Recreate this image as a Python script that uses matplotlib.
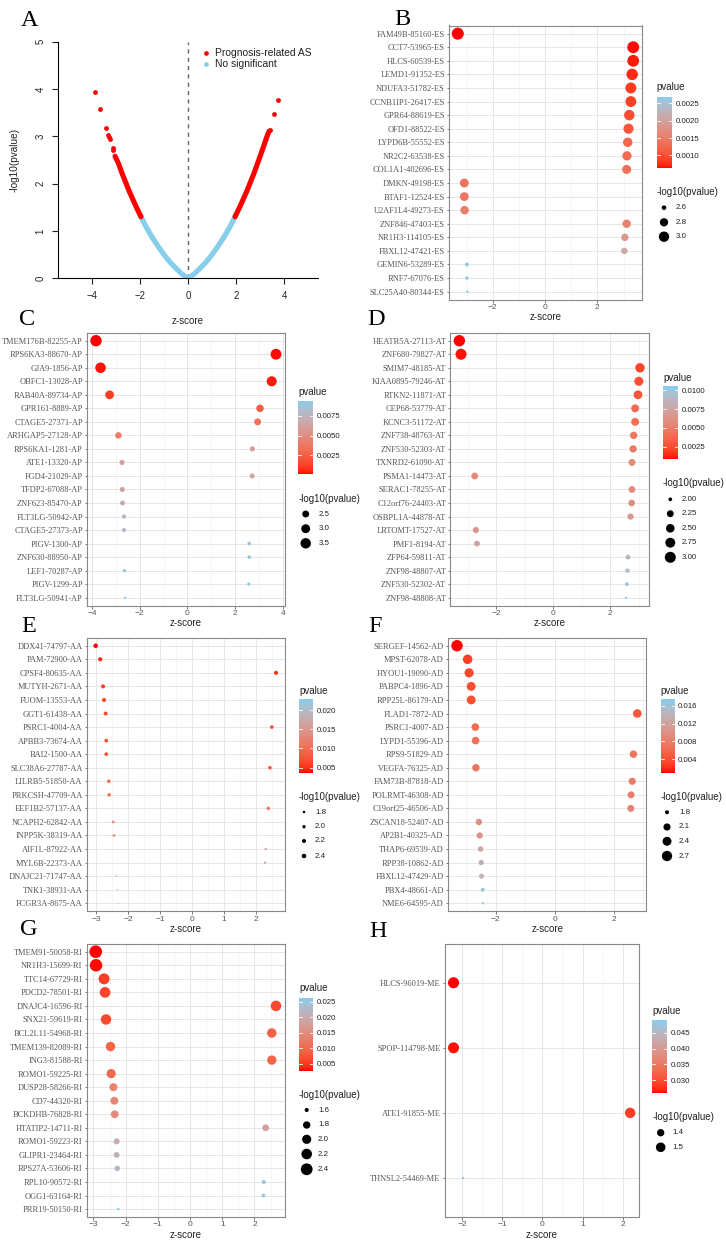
import numpy as np
import matplotlib
matplotlib.use("Agg")
import matplotlib.pyplot as plt
from matplotlib.colors import ListedColormap, Normalize
from matplotlib.colorbar import ColorbarBase

plt.rcParams['font.family'] = ['Liberation Sans', 'DejaVu Sans']
SERIF = ['Liberation Serif', 'DejaVu Serif']

W, H = 726, 1240

# ---------------- Panel A data ----------------
a_red_left_z = [-3.87, -3.68, -3.42, -3.32, -3.28, -3.25, -3.14, -3.11]
a_red_left_y = [3.94, 3.58, 3.17, 3.03, 2.98, 2.94, 2.75, 2.72]
a_red_right_z = [3.40, 3.58, 3.76]
a_red_right_y = [3.13, 3.48, 3.77]
a_band_left_z = [-3.04, -2.9, -2.75, -2.6, -2.45, -2.3, -2.15, -1.96]
a_band_left_y = [2.58, 2.43, 2.22, 2.03, 1.84, 1.67, 1.50, 1.30]
a_band_right_z = [1.96, 2.15, 2.3, 2.45, 2.6, 2.75, 2.9, 3.05, 3.2, 3.3, 3.38]
a_band_right_y = [1.30, 1.50, 1.67, 1.84, 2.03, 2.22, 2.43, 2.64, 2.86, 3.01, 3.11]
a_ns_z = [-1.96, -1.75, -1.5, -1.25, -1.0, -0.75, -0.5, -0.25, 0.0,
          0.25, 0.5, 0.75, 1.0, 1.25, 1.5, 1.75, 1.96]
a_ns_y = [1.30, 1.09, 0.87, 0.68, 0.50, 0.34, 0.21, 0.09, 0.0,
          0.09, 0.21, 0.34, 0.50, 0.68, 0.87, 1.09, 1.30]
a_xticks = [-4, -2, 0, 2, 4]
a_yticks = [0, 1, 2, 3, 4, 5]
a_legend = ["Prognosis-related AS", "No significant"]

# ---------------- Panel B ----------------
b_labels = ["FAM49B-85160-ES", "CCT7-53965-ES", "HLCS-60539-ES", "LEMD1-91352-ES",
            "NDUFA3-51782-ES", "CCNB1IP1-26417-ES", "GPR64-88619-ES", "OFD1-88522-ES",
            "LYPD6B-55552-ES", "NR2C2-63538-ES", "COL1A1-402696-ES", "DMKN-49198-ES",
            "BTAF1-12524-ES", "U2AF1L4-49273-ES", "ZNF846-47403-ES", "NR1H3-114105-ES",
            "FBXL12-47421-ES", "GEMIN6-53289-ES", "RNF7-67076-ES", "SLC25A40-80344-ES"]
b_z = [-3.34, 3.37, 3.37, 3.33, 3.28, 3.28, 3.22, 3.19, 3.16, 3.13, 3.12,
       -3.09, -3.09, -3.08, 3.12, 3.05, 3.03, -2.99, -2.99, -2.98]
b_p = [0.00063, 0.00065, 0.00068, 0.00075, 0.00085, 0.00088, 0.00098, 0.00105,
       0.00125, 0.00130, 0.00135, 0.00140, 0.00142, 0.00150, 0.00155, 0.00185,
       0.00210, 0.00260, 0.00265, 0.00269]
b_xticks = [-2, 0, 2]
b_xminor = [-3, -1, 1, 3]
b_cbar_ticks = [0.0010, 0.0015, 0.0020, 0.0025]
b_cbar_labels = ["0.0010", "0.0015", "0.0020", "0.0025"]
b_size_breaks = [2.6, 2.8, 3.0]
b_size_labels = ["2.6", "2.8", "3.0"]

# ---------------- Panel C ----------------
c_labels = ["TMEM176B-82255-AP", "RPS6KA3-88670-AP", "GJA9-1856-AP", "OBFC1-13028-AP",
            "RAB40A-89734-AP", "GPR161-8889-AP", "CTAGE5-27371-AP", "ARHGAP5-27128-AP",
            "RPS6KA1-1281-AP", "ATE1-13320-AP", "FGD4-21029-AP", "TFDP2-67088-AP",
            "ZNF623-85470-AP", "FLT3LG-50942-AP", "CTAGE5-27373-AP", "PIGV-1300-AP",
            "ZNF630-88950-AP", "LEF1-70287-AP", "PIGV-1299-AP", "FLT3LG-50941-AP"]
c_z = [-3.83, 3.71, -3.64, 3.53, -3.26, 3.04, 2.94, -2.89, 2.72, -2.74,
       2.71, -2.73, -2.72, -2.66, -2.66, 2.59, 2.59, -2.64, 2.57, -2.61]
c_p = [0.000128, 0.000207, 0.000273, 0.000416, 0.00111, 0.00237, 0.00328, 0.0039,
       0.0061, 0.0062, 0.0064, 0.0065, 0.0068, 0.0078, 0.0079, 0.0086, 0.0087,
       0.0089, 0.0091, 0.0094]
c_xticks = [-4, -2, 0, 2, 4]
c_xminor = [-3, -1, 1, 3]
c_cbar_ticks = [0.0025, 0.0050, 0.0075]
c_cbar_labels = ["0.0025", "0.0050", "0.0075"]
c_size_breaks = [2.5, 3.0, 3.5]
c_size_labels = ["2.5", "3.0", "3.5"]

# ---------------- Panel D ----------------
d_labels = ["HEATR5A-27113-AT", "ZNF680-79827-AT", "SMIM7-48185-AT", "KIAA0895-79246-AT",
            "RTKN2-11871-AT", "CEP68-53779-AT", "KCNC3-51172-AT", "ZNF738-48763-AT",
            "ZNF530-52303-AT", "TXNRD2-61090-AT", "PSMA1-14473-AT", "SERAC1-78255-AT",
            "C12orf76-24403-AT", "OSBPL1A-44878-AT", "LRTOMT-17527-AT", "PMF1-8194-AT",
            "ZFP64-59811-AT", "ZNF98-48807-AT", "ZNF530-52302-AT", "ZNF98-48808-AT"]
d_z = [-3.30, -3.24, 3.04, 3.00, 2.97, 2.87, 2.87, 2.82, 2.80, 2.76,
       -2.76, 2.76, 2.75, 2.71, -2.72, -2.68, 2.62, 2.60, 2.58, 2.55]
d_p = [0.00081, 0.00098, 0.0022, 0.0026, 0.0029, 0.0040, 0.0041, 0.0047, 0.0049,
       0.0056, 0.0057, 0.0058, 0.0060, 0.0066, 0.0067, 0.0074, 0.0088, 0.0093,
       0.0099, 0.0106]
d_xticks = [-2, 0, 2]
d_xminor = [-3, -1, 1, 3]
d_cbar_ticks = [0.0025, 0.0050, 0.0075, 0.0100]
d_cbar_labels = ["0.0025", "0.0050", "0.0075", "0.0100"]
d_size_breaks = [2.0, 2.25, 2.5, 2.75, 3.0]
d_size_labels = ["2.00", "2.25", "2.50", "2.75", "3.00"]

# ---------------- Panel E ----------------
e_labels = ["DDX41-74797-AA", "PAM-72900-AA", "CPSF4-80635-AA", "MUTYH-2671-AA",
            "FUOM-13553-AA", "GGT1-61438-AA", "PSRC1-4004-AA", "APBB3-73674-AA",
            "BAI2-1500-AA", "SLC38A6-27787-AA", "LILRB5-51850-AA", "PRKCSH-47709-AA",
            "EEF1B2-57137-AA", "NCAPH2-62842-AA", "INPP5K-38319-AA", "AIF1L-87922-AA",
            "MYL6B-22373-AA", "DNAJC21-71747-AA", "TNK1-38931-AA", "FCGR3A-8675-AA"]
e_z = [-3.01, -2.87, 2.63, -2.78, -2.75, -2.70, 2.50, -2.68, -2.68, 2.44,
       -2.60, -2.59, 2.39, -2.46, -2.44, 2.31, 2.29, -2.36, -2.33, -2.33]
e_p = [0.0037, 0.0050, 0.0055, 0.0060, 0.0062, 0.0066, 0.0075, 0.0076, 0.0077,
       0.0082, 0.0092, 0.0095, 0.0100, 0.0140, 0.0145, 0.0170, 0.0175, 0.0210,
       0.0220, 0.0228]
e_xticks = [-3, -2, -1, 0, 1, 2]
e_xminor = [-2.5, -1.5, -0.5, 0.5, 1.5, 2.5]
e_cbar_ticks = [0.005, 0.010, 0.015, 0.020]
e_cbar_labels = ["0.005", "0.010", "0.015", "0.020"]
e_size_breaks = [1.8, 2.0, 2.2, 2.4]
e_size_labels = ["1.8", "2.0", "2.2", "2.4"]

# ---------------- Panel F ----------------
f_labels = ["SERGEF-14562-AD", "MPST-62078-AD", "HYOU1-19090-AD", "PABPC4-1896-AD",
            "RPP25L-86179-AD", "FLAD1-7872-AD", "PSRC1-4007-AD", "LYPD1-55396-AD",
            "RPS9-51829-AD", "VEGFA-76325-AD", "FAM73B-87818-AD", "POLRMT-46308-AD",
            "C19orf25-46506-AD", "ZSCAN18-52407-AD", "AP2B1-40325-AD", "THAP6-69539-AD",
            "RPP38-10862-AD", "FBXL12-47429-AD", "PBX4-48661-AD", "NME6-64595-AD"]
f_z = [-3.31, -2.95, -2.90, -2.83, -2.83, 2.80, -2.69, -2.68, 2.67, -2.67,
       2.63, 2.59, 2.58, -2.57, -2.54, -2.51, -2.49, -2.48, -2.44, -2.43]
f_p = [0.00105, 0.0030, 0.0035, 0.0040, 0.0041, 0.0046, 0.0066, 0.0068, 0.0071,
       0.0072, 0.0078, 0.0083, 0.0085, 0.0098, 0.0103, 0.0125, 0.0131, 0.0137,
       0.0160, 0.0174]
f_xticks = [-2, 0, 2]
f_xminor = [-3, -1, 1, 3]
f_cbar_ticks = [0.004, 0.008, 0.012, 0.016]
f_cbar_labels = ["0.004", "0.008", "0.012", "0.016"]
f_size_breaks = [1.8, 2.1, 2.4, 2.7]
f_size_labels = ["1.8", "2.1", "2.4", "2.7"]

# ---------------- Panel G ----------------
g_labels = ["TMEM91-50058-RI", "NR1H3-15699-RI", "TTC14-67729-RI", "PDCD2-78501-RI",
            "DNAJC4-16596-RI", "SNX21-59619-RI", "BCL2L11-54968-RI", "TMEM139-82089-RI",
            "ING3-81588-RI", "ROMO1-59225-RI", "DUSP28-58266-RI", "CD7-44320-RI",
            "BCKDHB-76828-RI", "HTATIP2-14711-RI", "ROMO1-59223-RI", "GLIPR1-23464-RI",
            "RPS27A-53606-RI", "RPL10-90572-RI", "OGG1-63164-RI", "PRR19-50150-RI"]
g_z = [-2.93, -2.92, -2.67, -2.64, 2.67, -2.61, 2.54, -2.47, 2.54, -2.45,
       -2.38, -2.35, -2.34, 2.35, -2.28, -2.28, -2.26, 2.29, 2.28, -2.23]
g_p = [0.0027, 0.0029, 0.0055, 0.0060, 0.0063, 0.0065, 0.0090, 0.0092, 0.0095,
       0.0100, 0.0135, 0.0140, 0.0145, 0.0180, 0.0205, 0.0210, 0.0220, 0.0250,
       0.0255, 0.0263]
g_xticks = [-3, -2, -1, 0, 1, 2]
g_xminor = [-2.5, -1.5, -0.5, 0.5, 1.5, 2.5]
g_cbar_ticks = [0.005, 0.010, 0.015, 0.020, 0.025]
g_cbar_labels = ["0.005", "0.010", "0.015", "0.020", "0.025"]
g_size_breaks = [1.6, 1.8, 2.0, 2.2, 2.4]
g_size_labels = ["1.6", "1.8", "2.0", "2.2", "2.4"]

# ---------------- Panel H ----------------
h_labels = ["HLCS-96019-ME", "SPOP-114798-ME", "ATE1-91855-ME", "THNSL2-54469-ME"]
h_z = [-2.22, -2.22, 2.19, -1.98]
h_p = [0.0259, 0.0262, 0.0285, 0.0490]
h_xticks = [-2, -1, 0, 1, 2]
h_xminor = [-1.5, -0.5, 0.5, 1.5]
h_cbar_ticks = [0.030, 0.035, 0.040, 0.045]
h_cbar_labels = ["0.030", "0.035", "0.040", "0.045"]
h_size_breaks = [1.4, 1.5]
h_size_labels = ["1.4", "1.5"]

# ---------------- colour map (Lab interpolation red -> skyblue) ----------------
_M = np.array([[0.4124564, 0.3575761, 0.1804375],
               [0.2126729, 0.7151522, 0.0721750],
               [0.0193339, 0.1191920, 0.9503041]])
_WP = np.array([0.95047, 1.0, 1.08883])


def rgb2lab(c):
    c = np.asarray(c, float)
    lin = np.where(c <= 0.04045, c / 12.92, ((c + 0.055) / 1.055) ** 2.4)
    t = (_M @ lin) / _WP
    d = 6 / 29
    f = np.where(t > d ** 3, np.cbrt(t), t / (3 * d * d) + 4 / 29)
    return np.array([116 * f[1] - 16, 500 * (f[0] - f[1]), 200 * (f[1] - f[2])])


def lab2rgb(lab):
    L, a, b = lab
    fy = (L + 16) / 116
    f = np.array([fy + a / 500, fy, fy - b / 200])
    d = 6 / 29
    t = np.where(f > d, f ** 3, 3 * d * d * (f - 4 / 29))
    lin = np.clip(np.linalg.inv(_M) @ (t * _WP), 0, 1)
    c = np.where(lin <= 0.0031308, 12.92 * lin, 1.055 * lin ** (1 / 2.4) - 0.055)
    return np.clip(c, 0, 1)


_l0 = rgb2lab([1.0, 0.0, 0.0])
_l1 = rgb2lab([135 / 255, 206 / 255, 235 / 255])
CMAP = ListedColormap([lab2rgb(_l0 + t * (_l1 - _l0)) for t in np.linspace(0, 1, 256)])

fig = plt.figure(figsize=(W / 100, H / 100), dpi=100)


def rect(l, t, r, b):
    return [l / W, 1 - b / H, (r - l) / W, (b - t) / H]


def diam_px(v, vmin, vmax, k):
    r = np.clip((np.asarray(v, float) - vmin) / (vmax - vmin), 0, 1)
    return k * (1 + 5 * np.sqrt(r) + 0.33)


def s_of(d):
    return (np.asarray(d) * 0.72) ** 2


# ---------------- Panel A ----------------
axA = fig.add_axes(rect(57.7, 41.7, 318.3, 278.3))
axA.axvline(0, color='#666666', lw=1.0, ls=(0, (3, 3)), zorder=1)
axA.plot(a_ns_z, a_ns_y, color='#87CEEB', lw=3.8, solid_capstyle='round', zorder=2)
axA.plot(a_band_left_z, a_band_left_y, color='#FF0000', lw=3.7, solid_capstyle='round', zorder=3)
axA.plot(a_band_right_z, a_band_right_y, color='#FF0000', lw=3.7, solid_capstyle='round', zorder=3)
axA.scatter(a_red_left_z + a_red_right_z, a_red_left_y + a_red_right_y,
            s=12, color='#FF0000', linewidths=0, zorder=3)
axA.set_xlim(-5.43, 5.43)
axA.set_ylim(0, 5)
axA.set_xticks(a_xticks)
axA.set_yticks(a_yticks)
axA.set_yticklabels([str(v) for v in a_yticks], rotation=90, va='center')
axA.spines['top'].set_visible(False)
axA.spines['right'].set_visible(False)
for sp in ('left', 'bottom'):
    axA.spines[sp].set_linewidth(0.8)
axA.tick_params(axis='x', length=4.3, width=0.8, pad=5.2, labelsize=6.9, colors='#222222')
axA.tick_params(axis='y', length=4.3, width=0.8, pad=4.5, labelsize=6.9, colors='#222222')
axA.patch.set_alpha(0)

# ---------------- dot plots ----------------
layout = {
    'B': dict(box=(449, 25.5, 642, 299.8), k=1.9, cbar=(656.7, 96.7, 672.3, 168.3),
              t1=(656.7, 86.5), t2=(656.7, 191.7), sy=[207.7, 222.3, 236.7], dx=664, lx=676),
    'C': dict(box=(87, 332.6, 285, 605.8), k=1.8, cbar=(298.3, 400.7, 313.3, 474.3),
              t1=(298.3, 391.7), t2=(298.3, 498.7), sy=[514, 528.7, 543.3], dx=305.7, lx=318.3),
    'D': dict(box=(450.3, 332.6, 649, 605.8), k=1.8, cbar=(663, 386, 678, 459.3),
              t1=(663, 378.3), t2=(663, 482.7), sy=[499.3, 513.7, 528.3, 542.7, 557.3],
              dx=670.3, lx=681.3),
    'E': dict(box=(86.7, 637.6, 285, 911.4), k=0.72, cbar=(299, 699.3, 313.3, 772.7),
              t1=(299, 690.7), t2=(299, 796.7), sy=[812, 826.7, 841, 856], dx=304, lx=315),
    'F': dict(box=(448, 637.6, 646.3, 911.4), k=1.8, cbar=(660.7, 699.3, 674.7, 772.7),
              t1=(660.7, 690.7), t2=(660.7, 796.7), sy=[812.3, 827, 841.3, 856], dx=667, lx=679),
    'G': dict(box=(86.7, 943.6, 285, 1217.2), k=2.0, cbar=(299, 997.7, 313.3, 1070.7),
              t1=(299, 988.3), t2=(299, 1095), sy=[1110, 1125, 1139.3, 1154, 1169.3],
              dx=306.7, lx=318),
    'H': dict(box=(444.7, 943.7, 639, 1217), k=1.75, cbar=(652.3, 1020, 667, 1093.3),
              t1=(652.3, 1011), t2=(652.3, 1117.3), sy=[1132.7, 1147.3], dx=660.7, lx=672.3),
}

panels = {
    'B': (b_labels, b_z, b_p, b_xticks, b_xminor, b_cbar_ticks, b_cbar_labels, b_size_breaks, b_size_labels),
    'C': (c_labels, c_z, c_p, c_xticks, c_xminor, c_cbar_ticks, c_cbar_labels, c_size_breaks, c_size_labels),
    'D': (d_labels, d_z, d_p, d_xticks, d_xminor, d_cbar_ticks, d_cbar_labels, d_size_breaks, d_size_labels),
    'E': (e_labels, e_z, e_p, e_xticks, e_xminor, e_cbar_ticks, e_cbar_labels, e_size_breaks, e_size_labels),
    'F': (f_labels, f_z, f_p, f_xticks, f_xminor, f_cbar_ticks, f_cbar_labels, f_size_breaks, f_size_labels),
    'G': (g_labels, g_z, g_p, g_xticks, g_xminor, g_cbar_ticks, g_cbar_labels, g_size_breaks, g_size_labels),
    'H': (h_labels, h_z, h_p, h_xticks, h_xminor, h_cbar_ticks, h_cbar_labels, h_size_breaks, h_size_labels),
}

legend_items = []
for key, (labels, z, p, xt, xm, cbt, cbl, sb, sl) in panels.items():
    L = layout[key]
    l, t, r, b = L['box']
    ax = fig.add_axes(rect(l, t, r, b))
    n = len(labels)
    y = np.arange(n)[::-1]
    z = np.asarray(z)
    p = np.asarray(p)
    nl = -np.log10(p)
    vmin, vmax = nl.min(), nl.max()
    norm = Normalize(p.min(), p.max())
    ax.scatter(z, y, s=s_of(diam_px(nl, vmin, vmax, L['k'])), c=p, cmap=CMAP, norm=norm,
               linewidths=0, zorder=3)
    zr = z.max() - z.min()
    ax.set_xlim(z.min() - 0.05 * zr, z.max() + 0.05 * zr)
    ax.set_ylim(-0.6, n - 1 + 0.6)
    ax.set_yticks(y)
    ax.set_yticklabels(labels, fontfamily=SERIF, fontsize=6.6, color='#111111')
    ax.set_xticks(xt)
    ax.set_xticks(xm, minor=True)
    ax.grid(True, which='major', color='#E6E6E6', lw=0.7)
    ax.grid(True, which='minor', axis='x', color='#F0F0F0', lw=0.45)
    ax.set_axisbelow(True)
    ax.tick_params(which='minor', length=0)
    ax.tick_params(which='major', length=1.8, width=0.5, color='#444444', pad=1.2,
                   labelsize=6.0, labelcolor='#555555')
    for sp in ax.spines.values():
        sp.set_color('#888888')
        sp.set_linewidth(0.8)
    legend_items.append((key, L, (l + r) / 2, b, norm, cbt, cbl, sb, sl, vmin, vmax))

    # colour bar
    cax = fig.add_axes(rect(*L['cbar']))
    cb = ColorbarBase(cax, cmap=CMAP, norm=norm, orientation='vertical')
    cb.outline.set_visible(False)
    cb.set_ticks(cbt)
    cb.set_ticklabels(cbl)
    cax.tick_params(length=0, pad=2.4, labelsize=5.7, labelcolor='#222222')
    for tv in cbt:
        cax.axhline(tv, xmin=0, xmax=0.2, color='white', lw=0.6)
        cax.axhline(tv, xmin=0.8, xmax=1, color='white', lw=0.6)

# ---------------- overlay in pixel coordinates ----------------
ov = fig.add_axes([0, 0, 1, 1])
ov.set_xlim(0, W)
ov.set_ylim(H, 0)
ov.axis('off')
ov.patch.set_alpha(0)

# panel A labels & legend
ov.text(188, 320.7, "z-score", ha='center', va='center', fontsize=7.0, color='#222222')
ov.text(15, 160, "-log10(pvalue)", ha='center', va='center', rotation=90, fontsize=7.2,
        color='#222222')
ov.scatter([205.7], [52.7], s=s_of(4.7), color='#FF0000', linewidths=0)
ov.scatter([205.7], [64.3], s=s_of(4.7), color='#87CEEB', linewidths=0)
ov.text(215, 52.7, a_legend[0], ha='left', va='center', fontsize=7.4, color='#222222')
ov.text(215, 64.3, a_legend[1], ha='left', va='center', fontsize=7.4, color='#222222')

for key, L, cx, b, norm, cbt, cbl, sb, sl, vmin, vmax in legend_items:
    ov.text(cx, b + 17.5, "z-score", ha='center', va='center', fontsize=7.0, color='#222222')
    ov.text(L['t1'][0], L['t1'][1], "pvalue", ha='left', va='center', fontsize=7.0,
            color='#222222')
    ov.text(L['t2'][0], L['t2'][1], "-log10(pvalue)", ha='left', va='center', fontsize=7.0,
            color='#222222')
    d = diam_px(sb, vmin, vmax, L['k'])
    ov.scatter([L['dx']] * len(sb), L['sy'], s=s_of(d), color='black', linewidths=0)
    for yy, lab in zip(L['sy'], sl):
        ov.text(L['lx'], yy, lab, ha='left', va='center', fontsize=5.7, color='#222222')

# panel letters
letters = [("A", 20.5, 26), ("B", 394.5, 25), ("C", 19.5, 325), ("D", 367.5, 325),
           ("E", 21.3, 631.7), ("F", 368.5, 631.7), ("G", 20.2, 935), ("H", 369.3, 936.7)]
for s, x, yb in letters:
    ov.text(x, yb, s, ha='left', va='baseline', fontsize=17.5, fontfamily=SERIF, color='black')

fig.savefig("out.png", dpi=100)
